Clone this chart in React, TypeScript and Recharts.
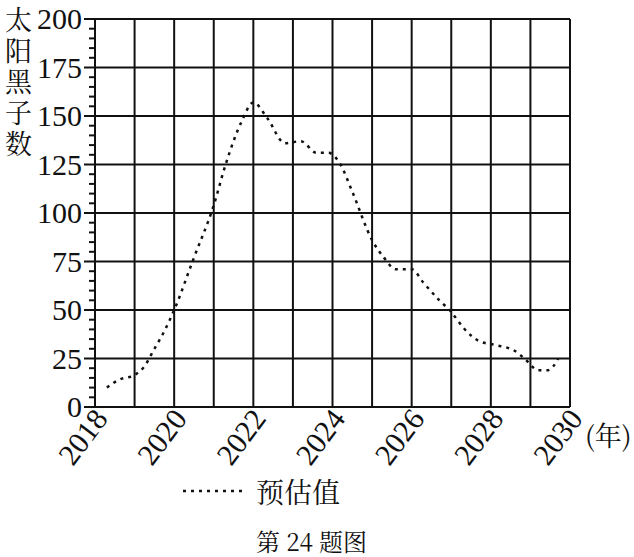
import React from 'react';
import { LineChart, Line, XAxis, YAxis, CartesianGrid } from 'recharts';

const years = [2018.3, 2018.6, 2019.0, 2019.25, 2019.5, 2019.75, 2020.0, 2020.5, 2021.0, 2021.3, 2021.7, 2022.0, 2022.35, 2022.8, 2023.2, 2023.6, 2023.9, 2024.2, 2024.5, 2025.0, 2025.3, 2025.6, 2026.0, 2026.3, 2026.7, 2027.0, 2027.3, 2027.7, 2028.1, 2028.6, 2028.85, 2029.2, 2029.45, 2029.7];
const estimates = [10, 14, 16.5, 21, 30, 39, 50, 77, 104, 125, 147, 157, 149, 136, 137, 131, 131, 125, 111, 86, 77, 71, 71, 64, 55, 49, 41, 34, 32, 29, 25, 19, 19, 25];
const xTicks = [2018, 2019, 2020, 2021, 2022, 2023, 2024, 2025, 2026, 2027, 2028, 2029, 2030];
const xLabels = [2018, 2020, 2022, 2024, 2026, 2028, 2030];
const yTicks = Array.from({ length: 41 }, (_, i) => i * 5);
const yGrid = [0, 25, 50, 75, 100, 125, 150, 175, 200];
const seriesName = '预估值';
const yTitle = '太阳黑子数';
const xUnit = '(年)';
const caption = '第 24 题图';

const data = years.map((y, i) => ({ year: y, value: estimates[i] }));

const SERIF = '"Liberation Serif", "Noto Serif CJK SC", serif';
const CJK = '"Noto Serif CJK SC", serif';

const YTick = (props: any) => {
  const { x, y, payload } = props;
  const v = payload.value as number;
  const major = v % 25 === 0;
  return (
    <g>
      <line x1={x - (major ? 11 : 6)} x2={x} y1={y} y2={y} stroke="#111" strokeWidth={2} />
      {major && (
        <text
          x={x - 13}
          y={y}
          dy={10}
          textAnchor="end"
          fontFamily={SERIF}
          fontSize={30}
          style={{ fontFamily: SERIF, fontSize: 30 }}
          fill="#111"
        >
          {v}
        </text>
      )}
    </g>
  );
};

const XTick = (props: any) => {
  const { x, y, payload } = props;
  const v = payload.value as number;
  if (!xLabels.includes(v)) return <g />;
  const ax = x + 14;
  const ay = y + 12;
  return (
    <text
      x={ax}
      y={ay}
      textAnchor="end"
      fontFamily={SERIF}
      fontSize={30}
      style={{ fontFamily: SERIF, fontSize: 30 }}
      fill="#111"
      transform={`rotate(-53 ${ax} ${ay})`}
    >
      {v}
    </text>
  );
};

export default function App() {
  return (
    <div style={{ position: 'absolute', left: 0, top: 0, width: 634, height: 557, background: '#fff', fontFamily: SERIF }}>
      <LineChart width={634} height={557} data={data} margin={{ top: 19, right: 64, bottom: 0, left: 0 }} style={{ fontFamily: SERIF }}>
        <CartesianGrid stroke="#111" strokeWidth={2} verticalValues={xTicks} horizontalValues={yGrid} />
        <XAxis
          dataKey="year"
          type="number"
          domain={[2018, 2030]}
          ticks={xTicks}
          interval={0}
          height={150}
          axisLine={{ stroke: '#111', strokeWidth: 2 }}
          tickLine={false}
          tickSize={0}
          tickMargin={0}
          tick={<XTick />}
        />
        <YAxis
          type="number"
          domain={[0, 200]}
          ticks={yTicks}
          interval={0}
          width={95}
          axisLine={{ stroke: '#111', strokeWidth: 2 }}
          tickLine={false}
          tickSize={0}
          tickMargin={0}
          tick={<YTick />}
        />
        <Line
          type="monotone"
          dataKey="value"
          name={seriesName}
          stroke="#111"
          strokeWidth={2.5}
          strokeDasharray="3 5"
          dot={false}
          isAnimationActive={false}
        />
      </LineChart>
      <div
        style={{
          position: 'absolute',
          left: 2,
          top: 6,
          writingMode: 'vertical-rl',
          textOrientation: 'upright',
          fontFamily: CJK,
          fontSize: 27,
          letterSpacing: '4px',
          lineHeight: '32px',
          color: '#111',
        }}
      >
        {yTitle}
      </div>
      <div style={{ position: 'absolute', left: 585, top: 418, fontFamily: CJK, fontSize: 27, lineHeight: '34px', color: '#111' }}>
        {xUnit}
      </div>
      <div style={{ position: 'absolute', left: 183, top: 472, display: 'flex', alignItems: 'center' }}>
        <svg width={64} height={10}>
          <line x1={0} y1={5} x2={64} y2={5} stroke="#111" strokeWidth={2.5} strokeDasharray="3 5" />
        </svg>
        <span style={{ fontFamily: CJK, fontSize: 28, lineHeight: '38px', marginLeft: 9, color: '#111' }}>{seriesName}</span>
      </div>
      <div style={{ position: 'absolute', left: 256, top: 527, fontFamily: CJK, fontSize: 24, lineHeight: '28px', color: '#111', whiteSpace: 'pre' }}>
        {caption}
      </div>
    </div>
  );
}
